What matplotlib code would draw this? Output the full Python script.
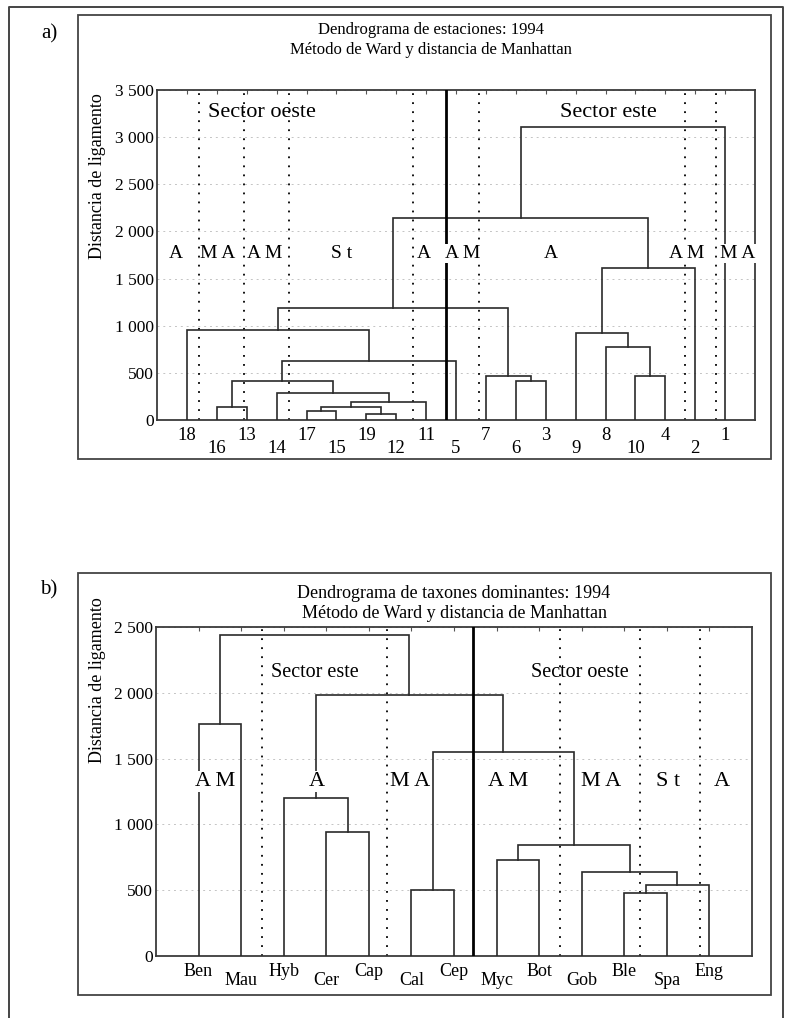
import matplotlib
matplotlib.use("Agg")
import matplotlib.pyplot as plt
from matplotlib.patches import Rectangle
from matplotlib.lines import Line2D

plt.rcParams['font.family'] = ['Liberation Serif', 'DejaVu Serif']

# ---- panel a: stations ----
leaves_a = ["18", "16", "13", "14", "17", "15", "19", "12", "11", "5",
            "7", "6", "3", "9", "8", "10", "4", "2", "1"]
# (left, right, linkage distance); "cN" = result of merge N
merges_a = [
    ("16", "13", 133),
    ("17", "15", 95),
    ("19", "12", 60),
    ("c1", "c2", 140),
    ("c3", "11", 186),
    ("14", "c4", 291),
    ("c0", "c5", 410),
    ("c6", "5", 621),
    ("18", "c7", 954),
    ("6", "3", 410),
    ("7", "c9", 463),
    ("c8", "c10", 1193),
    ("10", "4", 463),
    ("8", "c12", 779),
    ("9", "c13", 923),
    ("c14", "2", 1607),
    ("c11", "c15", 2147),
    ("c16", "1", 3112),
]
dividers_a = [1.40, 2.91, 4.42, 8.57, 10.77, 17.66, 18.70]
split_a = 9.67
groups_a = ["A", "M A", "A M", "S t", "A", "A M", "A", "A M", "M A"]
groups_a_x = [0.64, 2.04, 3.61, 6.19, 8.93, 10.23, 13.18, 17.73, 19.43]
groups_a_y = 1765
sectors_a = ["Sector oeste", "Sector este"]
sectors_a_x = [3.50, 15.08]
sectors_a_y = 3263
yticks_a = [0, 500, 1000, 1500, 2000, 2500, 3000, 3500]
title_a = "Dendrograma de estaciones: 1994"

# ---- panel b: dominant taxa ----
leaves_b = ["Ben", "Mau", "Hyb", "Cer", "Cap", "Cal", "Cep",
            "Myc", "Bot", "Gob", "Ble", "Spa", "Eng"]
merges_b = [
    ("Ben", "Mau", 1763),
    ("Cer", "Cap", 945),
    ("Hyb", "c1", 1203),
    ("Cal", "Cep", 501),
    ("Myc", "Bot", 729),
    ("Ble", "Spa", 476),
    ("c5", "Eng", 540),
    ("Gob", "c6", 636),
    ("c4", "c7", 843),
    ("c3", "c8", 1548),
    ("c2", "c9", 1983),
    ("c0", "c10", 2437),
]
dividers_b = [2.50, 5.42, 9.48, 11.36, 12.79]
split_b = 7.45
groups_b = ["A M", "A", "M A", "A M", "M A", "S t", "A"]
groups_b_x = [1.385, 3.77, 5.96, 8.26, 10.46, 12.02, 13.28]
groups_b_y = 1325
sectors_b = ["Sector este", "Sector oeste"]
sectors_b_x = [3.73, 9.95]
sectors_b_y = 2158
yticks_b = [0, 500, 1000, 1500, 2000, 2500]
title_b = "Dendrograma de taxones dominantes: 1994"

subtitle = "Método de Ward y distancia de Manhattan"
ylabel = "Distancia de ligamento"

W, H = 792, 1018
LINE = '#2a2a2a'


def fx(px):
    return px / W


def fy(py):
    return 1 - py / H


def draw_dendrogram(ax, leaves, merges):
    xpos = {name: i + 1 for i, name in enumerate(leaves)}
    ypos = {name: 0 for name in leaves}
    for k, (a, b, h) in enumerate(merges):
        xa, xb = xpos[a], xpos[b]
        ax.plot([xa, xa, xb, xb], [ypos[a], h, h, ypos[b]],
                color=LINE, lw=1.2, solid_joinstyle='miter', zorder=3)
        xpos[f"c{k}"] = (xa + xb) / 2
        ypos[f"c{k}"] = h


def style_panel(ax, leaves, ymax, yticks, label_fs, pads):
    ax.set_xlim(0, len(leaves) + 1)
    ax.set_ylim(0, ymax)
    ax.set_yticks(yticks)
    ax.set_yticklabels([f"{v:,}".replace(",", " ") for v in yticks], fontsize=12.5)
    ax.tick_params(axis='y', length=0, pad=2)
    ax.set_xticks(range(1, len(leaves) + 1))
    ax.set_xticklabels([])
    ax.tick_params(axis='x', bottom=False, top=True, direction='in', length=3,
                   color='#555555')
    ax.yaxis.grid(True, color='#c4c4c4', linestyle=(0, (2, 4)), lw=0.7)
    ax.set_axisbelow(True)
    for s in ax.spines.values():
        s.set_color('#3a3a3a')
        s.set_linewidth(1.3)
    # leaf labels alternate between two rows
    for i, name in enumerate(leaves):
        ax.annotate(name, xy=(i + 1, 0), xycoords=('data', 'axes fraction'),
                    xytext=(0, -pads[i % 2]), textcoords='offset points',
                    ha='center', va='top', fontsize=label_fs)


fig = plt.figure(figsize=(W / 100, H / 100), dpi=100)

# outer frame and panel boxes
fig.add_artist(Line2D([fx(9), fx(9), fx(783), fx(783)], [fy(1030), fy(7), fy(7), fy(1030)],
                      transform=fig.transFigure, color='#444444', lw=1.4))
for top, bottom in [(15, 459), (573, 995)]:
    fig.add_artist(Rectangle((fx(78), fy(bottom)), fx(771) - fx(78), fy(top) - fy(bottom),
                             transform=fig.transFigure, fill=False,
                             edgecolor='#444444', lw=1.3))

# panel a
ax_a = fig.add_axes([fx(157), fy(420), (755 - 157) / W, (420 - 90) / H])
style_panel(ax_a, leaves_a, 3500, yticks_a, 13.5, (5, 14.5))
draw_dendrogram(ax_a, leaves_a, merges_a)
for x in dividers_a:
    ax_a.axvline(x, color='black', lw=1.3, linestyle=(0, (1, 4)), zorder=2)
ax_a.axvline(split_a, color='black', lw=2.0, zorder=4)
for t, x in zip(groups_a, groups_a_x):
    ax_a.text(x, groups_a_y, t, ha='center', va='center', fontsize=14, zorder=5,
              bbox=dict(facecolor='white', edgecolor='none', pad=0.5))
for t, x in zip(sectors_a, sectors_a_x):
    ax_a.text(x, sectors_a_y, t, ha='center', va='center', fontsize=16, zorder=5)

fig.text(fx(49), fy(34), "a)", fontsize=15, ha='center', va='center')
fig.text(fx(431), fy(30), title_a, fontsize=12, ha='center', va='center')
fig.text(fx(431), fy(50), subtitle, fontsize=12, ha='center', va='center')
fig.text(fx(98), fy(176), ylabel, fontsize=13, rotation=90, ha='center', va='center')

# panel b
ax_b = fig.add_axes([fx(156), fy(956), (752 - 156) / W, (956 - 627) / H])
style_panel(ax_b, leaves_b, 2500, yticks_b, 13, (5, 11.5))
draw_dendrogram(ax_b, leaves_b, merges_b)
for x in dividers_b:
    ax_b.axvline(x, color='black', lw=1.3, linestyle=(0, (1, 4)), zorder=2)
ax_b.axvline(split_b, color='black', lw=2.0, zorder=4)
for t, x in zip(groups_b, groups_b_x):
    ax_b.text(x, groups_b_y, t, ha='center', va='center', fontsize=16, zorder=5,
              bbox=dict(facecolor='white', edgecolor='none', pad=0.5))
for t, x in zip(sectors_b, sectors_b_x):
    ax_b.text(x, sectors_b_y, t, ha='center', va='center', fontsize=14.5, zorder=5)

fig.text(fx(49), fy(590), "b)", fontsize=15, ha='center', va='center')
fig.text(fx(454), fy(593), title_b, fontsize=13, ha='center', va='center')
fig.text(fx(454), fy(613), subtitle, fontsize=13, ha='center', va='center')
fig.text(fx(98), fy(680), ylabel, fontsize=13, rotation=90, ha='center', va='center')

fig.savefig("out.png", dpi=100)
